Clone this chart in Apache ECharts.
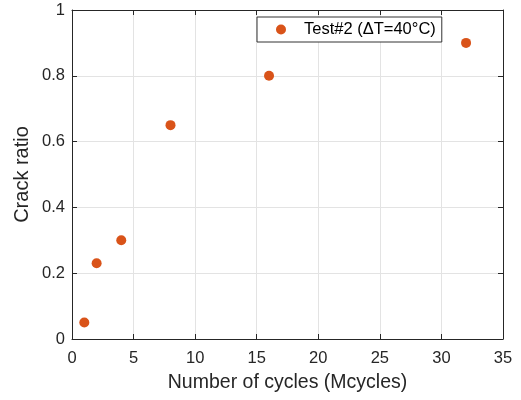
<!DOCTYPE html>
<html>
<head>
<meta charset="utf-8">
<script src="https://cdn.jsdelivr.net/npm/echarts@6/dist/echarts.min.js"></script>
<style>
  html, body { margin: 0; padding: 0; background: #fff; }
  #chart { width: 521px; height: 400px; }
</style>
</head>
<body>
<div id="chart"></div>
<script>
// data
const cycles = [1, 2, 4, 8, 16, 32];
const crackRatio = [0.05, 0.23, 0.3, 0.65, 0.8, 0.9];
const seriesName = "Test#2 (ΔT=40°C)";

const axisColor = "#262626";
const gridColor = "#e3e3e3";
const font = "Liberation Sans, Arial, Helvetica, sans-serif";

const chart = echarts.init(document.getElementById("chart"));

const boxAxis = {
    axisLine: { show: true, onZero: false, lineStyle: { color: axisColor, width: 1 } },
    axisTick: { show: true, inside: true, length: 5, lineStyle: { color: axisColor } },
    axisLabel: { show: false },
    splitLine: { show: false }
};

const option = {
    animation: false,
    textStyle: { fontFamily: font },
    grid: { left: 72, right: 18, top: 10, bottom: 61 },
    legend: {
        data: [seriesName],
        left: 257,
        top: 17,
        orient: "horizontal",
        icon: "circle",
        itemWidth: 36,
        itemHeight: 10,
        itemGap: 0,
        padding: [4, 6, 4, 19],
        borderColor: "#333",
        borderWidth: 1,
        backgroundColor: "#fff",
        textStyle: { fontSize: 16.5, color: "#000", fontFamily: font }
    },
    xAxis: [
        {
            type: "value",
            min: 0, max: 35, interval: 5,
            name: "Number of cycles (Mcycles)",
            nameLocation: "middle",
            nameGap: 34,
            nameMoveOverlap: false,
            nameTextStyle: { fontSize: 19.5, color: axisColor, fontFamily: font },
            axisLine: { show: true, onZero: false, lineStyle: { color: axisColor } },
            axisTick: { show: true, inside: true, length: 5, lineStyle: { color: axisColor } },
            axisLabel: { fontSize: 16.5, color: axisColor, margin: 11, fontFamily: font },
            splitLine: { show: true, lineStyle: { color: gridColor } }
        },
        Object.assign({ type: "value", position: "top", min: 0, max: 35, interval: 5 }, boxAxis)
    ],
    yAxis: [
        {
            type: "value",
            min: 0, max: 1, interval: 0.2,
            name: "Crack ratio",
            nameLocation: "middle",
            nameGap: 40,
            nameMoveOverlap: false,
            nameTextStyle: { fontSize: 20, color: axisColor, fontFamily: font },
            axisLine: { show: true, onZero: false, lineStyle: { color: axisColor } },
            axisTick: { show: true, inside: true, length: 5, lineStyle: { color: axisColor } },
            axisLabel: {
                fontSize: 16.5, color: axisColor, margin: 7, fontFamily: font,
                formatter: (v) => String(Math.round(v * 10) / 10)
            },
            splitLine: { show: true, lineStyle: { color: gridColor } }
        },
        Object.assign({ type: "value", position: "right", min: 0, max: 1, interval: 0.2 }, boxAxis)
    ],
    series: [
        {
            name: seriesName,
            type: "scatter",
            symbol: "circle",
            symbolSize: 10,
            itemStyle: { color: "#D95319", opacity: 1 },
            data: cycles.map((c, i) => [c, crackRatio[i]])
        }
    ]
};

chart.setOption(option);
</script>
</body>
</html>
